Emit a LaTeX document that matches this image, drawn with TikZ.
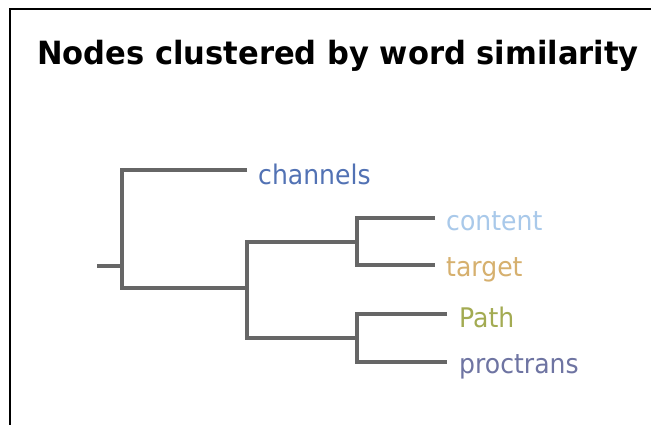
\documentclass[tikz,border=0pt]{standalone}
\usepackage{fontspec}
\setmainfont{DejaVu Sans}
\definecolor{branchgray}{HTML}{666666}
\definecolor{cchannels}{HTML}{5272B4}
\definecolor{ccontent}{HTML}{A9C9EA}
\definecolor{ctarget}{HTML}{D6B06E}
\definecolor{cpath}{HTML}{A3AB52}
\definecolor{cproc}{HTML}{6E74A2}
\begin{document}
\begin{tikzpicture}[x=1pt,y=-1pt,
  branch/.style={draw=branchgray, line width=3.4pt},
  leaf/.style={anchor=base west, inner sep=0pt, font=\fontsize{27}{27}\selectfont},
]
\useasboundingbox (0,0) rectangle (651,425);
\fill[white] (0,0) rectangle (651,425);
% panel frame (top and left edges)
\draw[line width=2.4pt] (10,425) -- (10,9) -- (651,9);
\node[anchor=base west, inner sep=0pt, font=\bfseries\fontsize{32}{32}\selectfont] (title) at (37,65) {\scalebox{0.955}[1]{Nodes clustered by word similarity}};

% leaf labels
\node[leaf, text=cchannels] (lchannels) at (258,185) {\scalebox{0.93}[1]{channels}};
\node[leaf, text=ccontent] (lcontent) at (446,230) {\scalebox{0.93}[1]{content}};
\node[leaf, text=ctarget] (ltarget) at (446,276) {\scalebox{0.93}[1]{target}};
\node[leaf, text=cpath] (lpath) at (459,327) {\scalebox{0.93}[1]{Path}};
\node[leaf, text=cproc] (lproc) at (459,373) {\scalebox{0.93}[1]{proctrans}};

% leaf tips of the branches
\coordinate (tchannels) at (247,170);
\coordinate (tcontent) at (435,218);
\coordinate (ttarget) at (435,265);
\coordinate (tpath) at (447,314);
\coordinate (tproc) at (447,362);

% internal merge points
\coordinate (root) at (97,266);
\coordinate (n0) at (122,266);
\coordinate (n1) at (247,288);
\coordinate (n2) at (357,242);
\coordinate (n3) at (357,338);

\draw[branch] (root) -- (n0);
\draw[branch] (tchannels) -| (n0) |- (n1);
\draw[branch] (n2) -| (n1) |- (n3);
\draw[branch] (tcontent) -| (n2) |- (ttarget);
\draw[branch] (tpath) -| (n3) |- (tproc);
\end{tikzpicture}
\end{document}
